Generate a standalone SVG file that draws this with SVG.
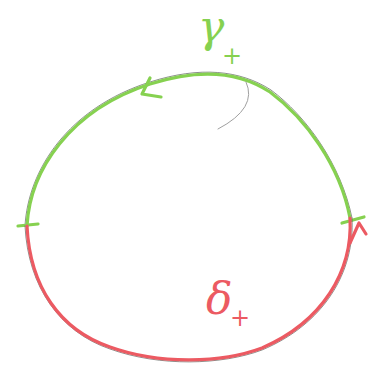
<svg xmlns="http://www.w3.org/2000/svg" width="374" height="375" viewBox="0 0 374 375">
<style>
.pencil{fill:none;stroke:#5a5f5a;stroke-width:1;stroke-linecap:round;opacity:0.7}
.gamma-text{fill:#86d150;font-family:"DejaVu Serif",serif;font-style:italic}
.delta-text{fill:#ec5a62;font-family:"DejaVu Serif",serif;font-style:italic}
</style>
<rect width="374" height="375" fill="#ffffff"/>
<g id="connectors" fill="none" stroke-linecap="round" stroke-linejoin="round">
<g id="gamma-arc" stroke="#86d150" stroke-width="3.2">
<path class="pencil" d="M25 226 C28 170 68 108 150 82 C200 66 240 70 271 90 C306 116 341 164 352 218"/>
<path d="M27 226 C30 170 70 110 150 84 C200 68 240 72 270 92 C305 118 340 165 350 218"/>
<path d="M150 78 L142 94 L161 97"/>
<path d="M18 226 L38 224"/>
<path d="M342 223 L364 217"/>
</g>
<g id="delta-arc" stroke="#ec5a62" stroke-width="3.2">
<path class="pencil" d="M352 218 C355 272 324 324 262 350 C222 365 160 367 110 349 C60 332 28 287 25 226"/>
<path d="M350 218 C353 272 322 322 262 348 C222 363 160 365 110 347 C60 330 30 287 27 226"/>
<path d="M350 243 L359 223 L366 234"/>
</g>
<path stroke="#a0a0a0" stroke-width="1" d="M246 82 Q258 108 218 129"/>
</g>
<g id="gamma-label">
<text class="gamma-text" x="198" y="42" font-size="44">γ</text>
<text class="gamma-text" x="222" y="64" font-size="24">+</text>
</g>
<g id="delta-label">
<text class="delta-text" x="206" y="314" font-size="44">δ</text>
<text class="delta-text" x="230" y="326" font-size="24">+</text>
</g>
</svg>
